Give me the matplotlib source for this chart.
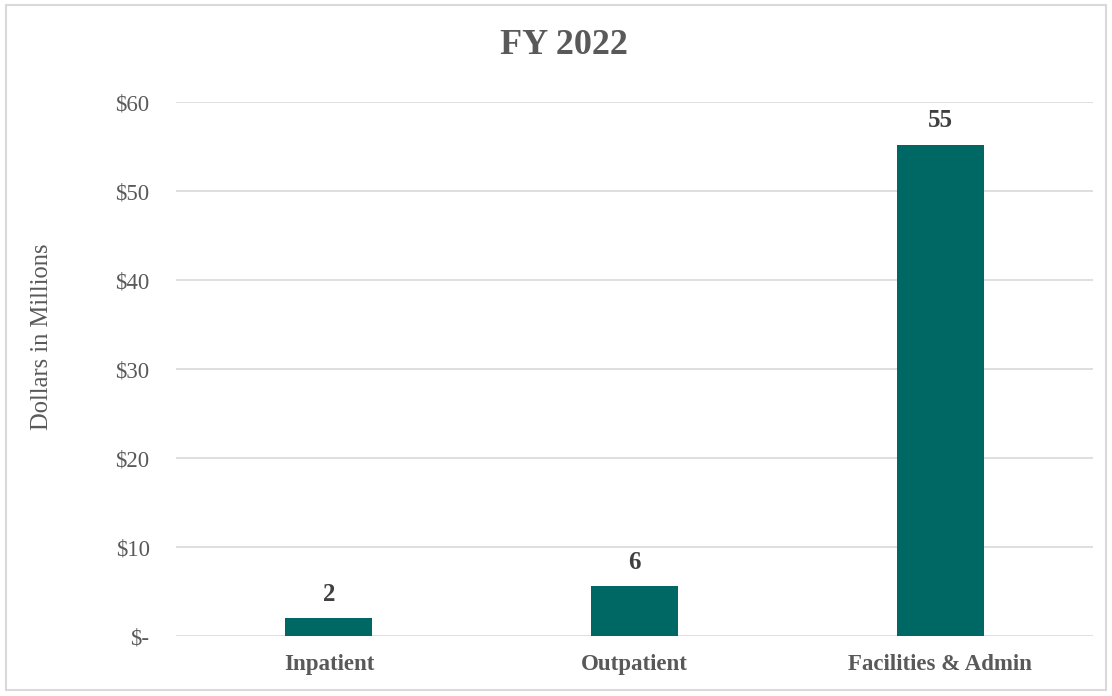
import matplotlib.pyplot as plt
from matplotlib.patches import Rectangle

categories = ['Inpatient', 'Outpatient', 'Facilities & Admin']
values = [2.0, 5.6, 55.2]
labels = ['2', '6', '55']
yticks = [0, 10, 20, 30, 40, 50, 60]
yticklabels = ['$-', '$10', '$20', '$30', '$40', '$50', '$60']

plt.rcParams['font.family'] = ['Liberation Serif', 'DejaVu Serif']

fig = plt.figure(figsize=(11.12, 6.96), dpi=100)
ax = fig.add_axes([0.1583, 0.0862, 0.8247, 0.7672])

x = range(len(categories))
ax.bar(x, values, width=0.285, color='#006864', zorder=3)
for i, v in enumerate(values):
    ax.text(i, v + 1.4, labels[i], ha='center', va='bottom', fontsize=18,
            fontweight='bold', color='#404040')

ax.set_xlim(-0.5, 2.5)
ax.set_ylim(0, 60)
ax.set_yticks(yticks)
ax.set_yticklabels(yticklabels, fontsize=16.5, color='#595959')
ax.set_xticks(list(x))
ax.set_xticklabels(categories, fontsize=16.5, fontweight='bold', color='#595959')
ax.tick_params(axis='both', length=0)
ax.tick_params(axis='y', pad=19)
ax.tick_params(axis='x', pad=13)
ax.grid(axis='y', color='#d9d9d9', linewidth=1.2, zorder=0)
for s in ax.spines.values():
    s.set_visible(False)

ax.set_ylabel('Dollars in Millions', fontsize=17.7, color='#595959', va='center')
ax.yaxis.set_label_coords(-0.146, 0.56)
fig.text(0.507, 0.935, 'FY 2022', ha='center', va='center', fontsize=26,
         fontweight='bold', color='#595959')

fig.patches.append(Rectangle((0.005, 0.008), 0.99, 0.985, transform=fig.transFigure,
                             fill=False, edgecolor='#d9d9d9', linewidth=1.5))

fig.savefig('out.png', dpi=100)
